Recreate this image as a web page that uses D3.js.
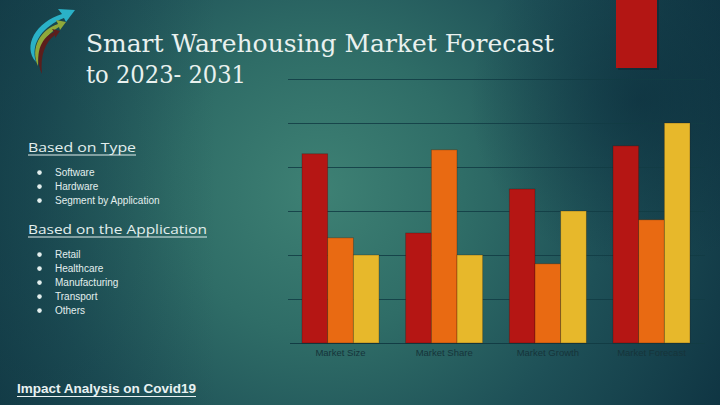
<!DOCTYPE html>
<html><head><meta charset="utf-8">
<script src="https://cdn.jsdelivr.net/npm/d3@7"></script>
<style>html,body{margin:0;padding:0;background:#163f4a;}svg{display:block;}</style>
</head><body>
<script>
const categories = ["Market Size", "Market Share", "Market Growth", "Market Forecast"];
const seriesNames = ["Series 1", "Series 2", "Series 3"];
const series1 = [4.3, 2.5, 3.5, 4.48];
const series2 = [2.39, 4.39, 1.8, 2.8];
const series3 = [2.0, 2.0, 3.0, 5.0];
const gridTicks = [1, 2, 3, 4, 5, 6];
const colors = ["#b51614", "#e96a12", "#e7b82b"];
const typeItems = ["Software", "Hardware", "Segment by Application"];
const appItems = ["Retail", "Healthcare", "Manufacturing", "Transport", "Others"];

const W = 720, H = 405;
const svg = d3.select("body").append("svg").attr("width", W).attr("height", H);
const defs = svg.append("defs");
const rg = defs.append("radialGradient").attr("id", "bg").attr("gradientUnits", "userSpaceOnUse")
  .attr("cx", 320).attr("cy", 190).attr("r", 480);
[[0, "#3e8174"], [0.3, "#2f6d67"], [0.6, "#1e5057"], [1, "#0d3140"]].forEach(s =>
  rg.append("stop").attr("offset", s[0]).attr("stop-color", s[1]));
svg.append("rect").attr("width", W).attr("height", H).attr("fill", "url(#bg)");
const lg = defs.append("linearGradient").attr("id", "lv").attr("x1", 0).attr("x2", 1);
lg.append("stop").attr("offset", 0).attr("stop-color", "#0f3440").attr("stop-opacity", 0.4);
lg.append("stop").attr("offset", 0.3).attr("stop-color", "#0f3440").attr("stop-opacity", 0);
svg.append("rect").attr("width", W).attr("height", H).attr("fill", "url(#lv)");
const rg2 = defs.append("radialGradient").attr("id", "rt").attr("gradientUnits", "userSpaceOnUse")
  .attr("cx", 640).attr("cy", 100).attr("r", 170);
rg2.append("stop").attr("offset", 0).attr("stop-color", "#0a2b3a").attr("stop-opacity", 0.6);
rg2.append("stop").attr("offset", 1).attr("stop-color", "#0a2b3a").attr("stop-opacity", 0);
svg.append("rect").attr("width", W).attr("height", H).attr("fill", "url(#rt)");

// logo
const logo = svg.append("g");
logo.append("path").attr("d", "M36,62 C22,46 36,22 62,14 L58,9 L75,10 L66,22 L64,18 C44,26 30,42 36,62 Z").attr("fill", "#2ab1c7");
logo.append("path").attr("d", "M38,66 C30,48 40,30 58,24 L56,20 L66,22 L60,30 L59,27 C46,34 38,48 38,66 Z").attr("fill", "#8fa93a");
logo.append("path").attr("d", "M42,74 C34,56 40,38 54,32 L52,29 L60,31 L55,38 L55,35 C45,42 40,56 42,74 Z").attr("fill", "#5b1e1c");

// title
const title = svg.append("text").attr("font-family", "DejaVu Serif, serif").attr("font-size", 24)
  .attr("fill", "#e9f1ef");
title.append("tspan").attr("x", 86).attr("y", 52).attr("textLength", 468).attr("lengthAdjust", "spacingAndGlyphs").text("Smart Warehousing  Market Forecast");
title.append("tspan").attr("x", 86).attr("y", 83).attr("textLength", 160).attr("lengthAdjust", "spacingAndGlyphs").text("to 2023- 2031");

// left text
function heading(txt, y, w) {
  svg.append("text").attr("x", 28).attr("y", y).attr("font-family", "Open Sans, sans-serif")
    .attr("font-size", 13.5).attr("fill", "#e3efee").attr("textLength", w).attr("lengthAdjust", "spacingAndGlyphs").text(txt);
  svg.append("line").attr("x1", 28).attr("x2", 28 + w).attr("y1", y + 3).attr("y2", y + 3)
    .attr("stroke", "#e3efee").attr("stroke-width", 1);
}
heading("Based on  Type", 152, 108);
heading("Based on the Application", 234, 179);
function items(list, y0) {
  const g = svg.append("g").attr("font-family", "Liberation Sans, Arial, sans-serif").attr("font-size", 10).attr("fill", "#e3efee");
  list.forEach((s, i) => {
    g.append("circle").attr("cx", 39.5).attr("cy", y0 + i * 14 - 3.4).attr("r", 2.3).attr("fill", "#e3efee");
    g.append("text").attr("x", 55).attr("y", y0 + i * 14).text(s);
  });
}
items(typeItems, 176);
items(appItems, 258);

svg.append("text").attr("x", 17).attr("y", 393).attr("font-family", "Liberation Sans, Arial, sans-serif")
  .attr("font-size", 13).attr("font-weight", "bold").attr("fill", "#e8f2f2").attr("textLength", 179)
  .attr("lengthAdjust", "spacingAndGlyphs").text("Impact Analysis on Covid19");
svg.append("line").attr("x1", 17).attr("x2", 196).attr("y1", 396.5).attr("y2", 396.5).attr("stroke", "#e8f2f2").attr("stroke-width", 1.2);

// chart
const y = d3.scaleLinear().domain([0, 6]).range([343, 79]);
const x = d3.scaleBand().domain(categories).range([302, 690]).paddingInner(0.257).paddingOuter(0);
const xs = d3.scaleBand().domain(seriesNames).range([0, x.bandwidth()]).padding(0);

// decorative bar at top right (background ornament)
svg.append("rect").attr("x", 618).attr("y", -2).attr("width", 41).attr("height", 72).attr("fill", "#0a2530").attr("opacity", 0.5);
svg.append("rect").attr("x", 616).attr("y", -2).attr("width", 41).attr("height", 70).attr("fill", "#b31614");

const grid = svg.append("g");
grid.selectAll("line").data(gridTicks).join("line")
  .attr("x1", 288).attr("x2", 705).attr("y1", d => Math.round(y(d)) + 0.5).attr("y2", d => Math.round(y(d)) + 0.5)
  .attr("stroke", "#123c44").attr("stroke-opacity", 0.85).attr("stroke-width", 1);
svg.append("line").attr("x1", 290).attr("x2", 705).attr("y1", y(0) + 0.5).attr("y2", y(0) + 0.5)
  .attr("stroke", "#123c44").attr("stroke-width", 1);

const data = categories.map((c, i) => ({ c, vals: [series1[i], series2[i], series3[i]] }));
const groups = svg.append("g").selectAll("g").data(data).join("g")
  .attr("transform", d => `translate(${x(d.c)},0)`);
groups.selectAll("rect").data(d => d.vals.map((v, j) => ({ v, s: seriesNames[j], j }))).join("rect")
  .attr("x", d => xs(d.s)).attr("width", xs.bandwidth())
  .attr("y", d => y(d.v)).attr("height", d => y(0) - y(d.v))
  .attr("fill", d => colors[d.j]).attr("stroke", "rgba(40,20,10,0.35)").attr("stroke-width", 0.8);

svg.append("g").selectAll("text").data(categories).join("text")
  .attr("x", d => x(d) + x.bandwidth() / 2).attr("y", 356).attr("text-anchor", "middle")
  .attr("font-family", "Liberation Sans, Arial, sans-serif").attr("font-size", 9.5).attr("fill", "#16343a")
  .text(d => d);
</script>
</body></html>
